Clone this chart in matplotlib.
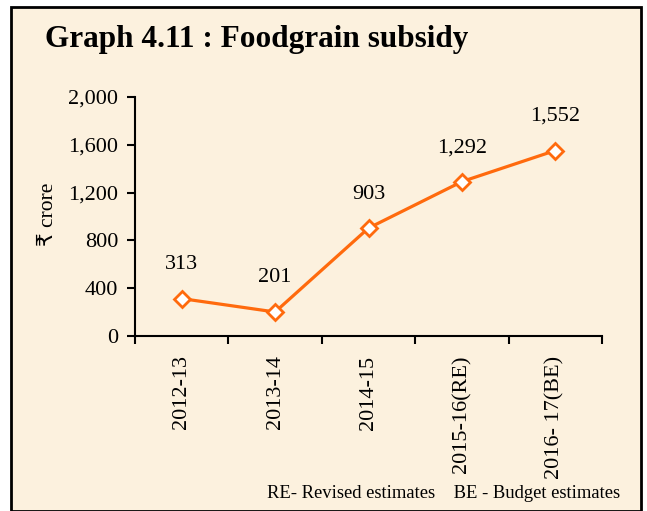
import matplotlib
matplotlib.use("Agg")
import matplotlib.pyplot as plt
from matplotlib.patches import Rectangle
from matplotlib.ticker import FuncFormatter, FixedLocator

categories = ["2012-13", "2013-14", "2014-15", "2015-16(RE)", "2016- 17(BE)"]
values = [313, 201, 903, 1292, 1552]
yticks = [0, 400, 800, 1200, 1600, 2000]

plt.rcParams['font.family'] = ['Liberation Serif', 'DejaVu Serif', 'DejaVu Sans']

W, H = 647, 511
fig = plt.figure(figsize=(W / 100, H / 100), dpi=100)
fig.patch.set_facecolor('white')
bg = '#FCF1DE'
orange = '#FF6A0D'

# framed background
fig.add_artist(Rectangle((11 / W, 0), (641 - 11) / W, 1 - 7 / H, transform=fig.transFigure,
                         facecolor=bg, edgecolor='black', linewidth=2, zorder=0))

ax = fig.add_axes([135 / W, 1 - 336 / H, (602 - 135) / W, (336 - 97) / H])
ax.set_facecolor('none')
x = list(range(len(categories)))
ax.plot(x, values, color=orange, linewidth=2.3, marker='D', markersize=8,
        markerfacecolor='white', markeredgecolor=orange, markeredgewidth=2, zorder=3)
for xi, v in zip(x, values):
    ax.annotate(f"{v:,}", (xi, v), xytext=(0, 24.5), textcoords='offset points',
                ha='center', va='center', fontsize=16)

ax.set_xlim(-0.5, len(categories) - 0.5)
ax.set_ylim(0, 2000)
ax.set_yticks(yticks)
ax.yaxis.set_major_formatter(FuncFormatter(lambda v, p: f"{int(v):,}"))
ax.set_xticks(x)
ax.set_xticklabels(categories, rotation=90, fontsize=16)
ax.tick_params(axis='x', which='major', length=0, pad=14)
ax.xaxis.set_minor_locator(FixedLocator([i - 0.5 for i in range(len(categories) + 1)]))
ax.tick_params(axis='x', which='minor', length=6, width=1.5, direction='out')
ax.tick_params(axis='y', length=6, width=1.5, direction='out', labelsize=16, pad=6)
for s in ['top', 'right']:
    ax.spines[s].set_visible(False)
for s in ['left', 'bottom']:
    ax.spines[s].set_linewidth(1.5)
ax.set_ylabel("₹ crore", fontsize=15.5, family=['Liberation Serif', 'DejaVu Sans'], labelpad=10)
ax.yaxis.set_label_coords(-77 / (602 - 135), 0.51)

fig.text(45 / W, 1 - 40 / H, "Graph 4.11 : Foodgrain subsidy", fontsize=22.5,
         fontweight='bold', ha='left', va='center')
fig.text(620 / W, 1 - 494 / H, "RE- Revised estimates    BE - Budget estimates",
         fontsize=13.4, ha='right', va='center')

fig.savefig("out.png", dpi=100, facecolor=fig.get_facecolor())
